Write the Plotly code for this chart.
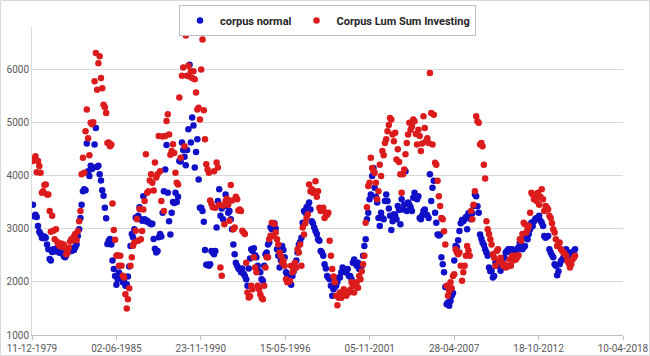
import pandas as pd
import plotly.graph_objects as go

start_month = "1980-01-01"

corpus_normal = [
    3450, 3230, 3260, 3220, 3050, 2940, 2900, 2830, 2820, 2850, 2830, 2700,
    2610, 2430, 2400, 2560, 2610, 2600, 2570, 2640, 2560, 2540, 2600, 2580,
    2480, 2460, 2500, 2550, 2600, 2620, 2580, 2630, 2600, 2650, 2700, 2860,
    2990, 3200, 3450, 3700, 3740, 3720, 4600, 4080, 3990, 4180, 4120, 4150,
    4580, 4890, 4160, 4180, 4020, 3905, 3720, 3620, 3390, 3195, 2710, 2770,
    2805, 2700, 2400, 2240, 2110, 1943, 2050, 2176, 2113, 2050, 1990, 2000,
    1925, 1955, 2100, 2290, 2675, 2900, 2836, 2990, 3210, 3180, 3240, 3400,
    3175, 3150, 3610, 3175, 3140, 3150, 3120, 3100, 3080, 3090, 2805, 2620,
    2550, 2580, 2836, 2900, 2850, 3300, 3700, 4110, 4570, 3675, 3140, 2890,
    3300, 3500, 3480, 3675, 3500, 3600, 4270, 4260, 4620, 4480, 4350, 4190,
    4480, 4870, 6080, 4620, 5090, 4940, 4150, 4440, 4680, 3925, 3390, 3390,
    3330, 3130, 2600, 2320, 2320, 2300, 2330, 2580, 2550, 2520, 2580, 3020,
    3520, 3740, 3240, 3380, 3175, 3425, 3640, 3425, 3300, 3330, 3175, 2990,
    2700, 2520, 2360, 2300, 2250, 2230, 2180, 2250, 2150, 2110, 2050, 1925,
    2250, 2440, 2610, 2580, 2630, 2500, 2460, 2300, 2200, 2180, 2050, 2020,
    2300, 2520, 2550, 2700, 2740, 3025, 2990, 3050, 3100, 3000, 2610, 2490,
    2270, 2400, 2675, 2600, 2460, 2180, 2110, 2050, 1990, 1945, 2110, 2200,
    2270, 2400, 2550, 2700, 2750, 2830, 3110, 3330, 3300, 3400, 3425, 3490,
    3360, 3140, 3100, 3020, 2955, 2900, 2800, 2770, 2580, 2550, 2490, 2330,
    2250, 2110, 2080, 2050, 1925, 1740, 1860, 1900, 1925, 2000, 2080, 2080,
    2180, 2270, 2200, 2180, 2180, 2240, 2110, 2110, 2050, 2360, 2420, 2350,
    2300, 2360, 2240, 2270, 2300, 2490, 2675, 2800, 3175, 3300, 3550, 3640,
    3990, 4140, 3770, 3600, 3490, 3200, 3050, 3300, 3200, 3175, 3520, 3640,
    3520, 3380, 3240, 2975, 3140, 3270, 3250, 3175, 3425, 3350, 3080, 3550,
    3360, 3450, 4080, 3330, 3490, 3450, 3400, 3330, 3580, 3675, 3600, 3550,
    3610, 3200, 3175, 3250, 3330, 3360, 3270, 3250, 3200, 4020, 3520, 3770,
    3900, 3300, 3110, 2890, 2870, 2890, 2460, 2330, 2180, 1900, 1580, 1610,
    1550, 1640, 1740, 1790, 2400, 2675, 2650, 2780, 2955, 3100, 3160, 3140,
    3175, 3220, 2990, 3290, 3200, 3175, 3290, 3425, 3640, 3610, 3420, 3300,
    2890, 2810, 2740, 2690, 2610, 2550, 2490, 2270, 2200, 2210, 2080, 2110,
    2360, 2300, 2350, 2390, 2210, 2300, 2330, 2450, 2550, 2580, 2610, 2610,
    2550, 2610, 2600, 2580, 2550, 2610, 2650, 2740, 2770, 2610, 2650, 2675,
    2830, 2800, 2900, 2990, 3110, 3050, 3140, 3180, 3200, 3200, 3240, 3150,
    3110, 3050, 2860, 2830, 2850, 2860, 2610, 2550, 2500, 2460, 2330, 2300,
    2125, 2200, 2330, 2390, 2420, 2460, 2490, 2610, 2560, 2550, 2490, 2520,
    2550, 2580, 2610,
]

corpus_lump_sum = [
    4270, 4300, 4360, 4060, 4270, 4175, 4050, 3675, 3700, 3820, 3830, 3640,
    3640, 3330, 2940, 3240, 2960, 2800, 2990, 2750, 2700, 2670, 2720, 2660,
    2700, 2640, 2520, 2550, 2640, 2760, 2800, 2780, 2850, 2900, 2780, 2950,
    3140, 3330, 4020, 4330, 4050, 4830, 5240, 4700, 4380, 4990, 4960, 5000,
    5770, 6300, 5610, 6110, 6240, 5830, 5640, 5330, 5280, 5175, 4610, 4620,
    4550, 4580, 3470, 2975, 2790, 2490, 2500, 2300, 2490, 2300, 2113, 2082,
    1767, 1497, 1673, 1880, 2300, 2460, 2680, 2740, 2962, 3180, 2770, 3370,
    2800, 2955, 3360, 3520, 4397, 3675, 3700, 3905, 4020, 3860, 3717, 4245,
    3960, 4020, 4742, 4080, 3520, 4730, 3330, 4740, 5025, 5150, 4770, 4390,
    4460, 4585, 4420, 4050, 3860, 3830, 5467, 4330, 5875, 6030, 4550, 6630,
    5875, 6060, 5860, 5960, 5830, 5960, 5810, 5560, 5240, 5270, 5050, 5990,
    6555, 5225, 4680, 4208, 4110, 4050, 3528, 3465, 3400, 4080, 3390, 4245,
    4150, 3450, 2270, 2113, 3434, 3080, 3520, 3560, 3450, 3150, 3820, 3528,
    2990, 3020, 3600, 3550, 3340, 3360, 3330, 2962, 2925, 2900, 2360, 1800,
    1704, 1730, 1925, 1860, 2460, 2270, 2180, 1925, 1860, 1767, 1700, 1673,
    1925, 2270, 2460, 2460, 2800, 2868, 3110, 2860, 3088, 2925, 2800, 2700,
    2550, 2480, 2360, 2400, 2300, 2050, 1990, 2000, 2020, 2300, 2180, 2220,
    2360, 2270, 2610, 2550, 2700, 2300, 3020, 2890, 3100, 3200, 3270, 3830,
    3700, 3740, 3675, 3700, 3890, 3600, 3700, 3390, 3330, 3360, 3390, 3200,
    3300, 3260, 3300, 2770, 2490, 2240, 2100, 1990, 1740, 1560, 1700, 1800,
    1700, 1800, 1860, 1800, 1740, 1800, 1800, 1850, 1990, 1925, 1800, 1925,
    1990, 1890, 2110, 2050, 2200, 2330, 2490, 3110, 3400, 3800, 3860, 4330,
    4140, 4080, 4050, 3860, 3550, 3700, 4200, 3990, 4460, 4380, 4610, 4680,
    4830, 4950, 5080, 5050, 4770, 4640, 4800, 4300, 4490, 4250, 4020, 3675,
    4020, 4110, 4400, 4610, 4770, 4990, 4860, 4920, 5050, 5020, 4780, 4580,
    4860, 4740, 4460, 4600, 5110, 4890, 4640, 4700, 4610, 5925, 5175, 4580,
    5140, 4240, 4200, 3900, 3610, 3425, 3200, 3175, 2950, 2700, 1925, 1740,
    1830, 1990, 1880, 2110, 2140, 2610, 2550, 2520, 2550, 2300, 2020, 2180,
    2300, 2490, 2675, 2590, 2490, 3330, 3175, 3450, 3700, 5110, 5020, 4990,
    4580, 4610, 4550, 4200, 3940, 3140, 2990, 2900, 2800, 2700, 2520, 2450,
    2300, 2580, 2610, 2390, 2450, 2360, 2300, 2330, 2270, 2280, 2300, 2420,
    2300, 2490, 2400, 2490, 2420, 2460, 2500, 2800, 2770, 2900, 3110, 3080,
    2925, 2990, 3050, 3300, 3675, 3640, 3550, 3600, 3520, 3675, 3450, 3600,
    3740, 3550, 3330, 3425, 3400, 3360, 3240, 3200, 3100, 2990, 2925, 2800,
    2675, 2700, 2740, 2610, 2580, 2550, 2520, 2490, 2390, 2350, 2270, 2330,
    2420, 2450, 2490,
]

series_names = ["corpus normal", "Corpus Lum Sum Investing"]
x_axis_start = "1979-12-11"
x_axis_end = "2018-04-10"
tick_step_days = 2000

dates = pd.date_range(start_month, periods=len(corpus_normal), freq="MS")

W, H = 650, 356
ML, MR, MT, MB = 32, 27, 27, 21

fig = go.Figure()
fig.add_trace(go.Scatter(
    x=dates, y=corpus_normal, mode="markers", name=series_names[0],
    marker=dict(color="#1010C8", size=6.5, line=dict(width=0)),
))
fig.add_trace(go.Scatter(
    x=dates, y=corpus_lump_sum, mode="markers", name=series_names[1],
    marker=dict(color="#DC1C1C", size=6.5, line=dict(width=0)),
))

pw = W - ML - MR
ph = H - MT - MB

fig.update_layout(
    width=W, height=H,
    margin=dict(l=ML, r=MR, t=MT, b=MB, pad=0, autoexpand=False),
    paper_bgcolor="white", plot_bgcolor="white",
    font=dict(family="Roboto, Arial, sans-serif", size=10, color="#595959"),
    showlegend=True,
    legend=dict(
        orientation="h", x=0.5, xanchor="center",
        y=1 + (MT - 5) / ph, yanchor="top",
        bordercolor="#BFBFBF", borderwidth=1, bgcolor="white",
        font=dict(family="Roboto, Arial, sans-serif", size=11, color="#262626", weight="bold"),
        itemwidth=30, tracegroupgap=0,
    ),
    xaxis=dict(
        type="date",
        range=[x_axis_start, x_axis_end],
        tick0=x_axis_start, dtick=tick_step_days * 86400000,
        tickformat="%d-%m-%Y",
        showgrid=False, zeroline=False,
        showline=True, linecolor="#BFBFBF", linewidth=1,
        ticks="outside", ticklen=4, tickcolor="#BFBFBF",
        tickfont=dict(size=10, color="#595959"),
    ),
    yaxis=dict(
        range=[1000, 6790], dtick=1000, tick0=1000,
        showgrid=True, gridcolor="#D9D9D9", gridwidth=1,
        zeroline=False, showline=True, linecolor="#D9D9D9", linewidth=1,
        ticks="", tickfont=dict(size=10, color="#595959"),
    ),
    shapes=[dict(
        type="rect", xref="paper", yref="paper",
        x0=(-ML + 0.5) / pw, x1=1 + (MR - 0.5) / pw,
        y0=(-MB + 0.5) / ph, y1=1 + (MT - 0.5) / ph,
        line=dict(color="#D9D9D9", width=1), layer="below",
    )],
)

fig.write_html(
    "out.html",
    config={"displayModeBar": False},
    post_script="document.body.style.margin='0px';document.body.style.padding='0px';",
)
